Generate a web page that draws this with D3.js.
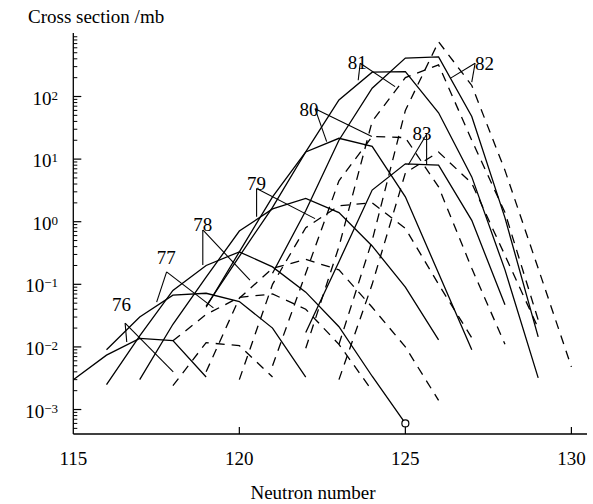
<!DOCTYPE html>
<html><head><meta charset="utf-8">
<script src="https://cdn.jsdelivr.net/npm/d3@7"></script>
<style>
html,body{margin:0;padding:0;background:#fff;}
text{font-family:"Liberation Serif","Times New Roman",serif;fill:#000;}
</style></head>
<body>
<svg id="chart" width="593" height="504"></svg>
<script>
// ---- data (neutron number, cross section in mb) ----
const solid76 = [[115,3.0e-3],[116,7.4e-3],[117,0.0137],[118,0.0126],[119,3.3e-3]];
const solid77 = [[116,9e-3],[117,0.030],[118,0.067],[119,0.072],[120,0.053],[121,0.020],[122,3.3e-3]];
const solid78 = [[116,2.5e-3],[117,0.015],[118,0.08],[119,0.2],[120,0.33],[121,0.19],[122,0.075],[123,0.021],[124,3.4e-3],[125,6e-4]];
const solid79 = [[117,3.0e-3],[118,0.023],[119,0.13],[120,0.71],[121,1.6],[122,2.35],[123,1.4],[124,0.41],[125,0.09],[126,0.013]];
const solid80 = [[119,0.045],[120,0.28],[121,1.7],[122,13],[123,21.5],[124,16],[125,2.5],[126,0.15],[127,9e-3]];
const solid81 = [[119,0.043],[120,0.33],[121,2.5],[122,13],[123,88],[124,245],[125,250],[126,55],[127,5.2],[128,0.17],[129,3.2e-3]];
const solid82 = [[121,0.15],[122,1.5],[123,20],[124,136],[125,410],[126,430],[127,48],[128,1.15],[129,0.0145]];
const solid83 = [[122,0.017],[123,0.23],[124,3.2],[125,8.4],[126,8.0],[127,1.05],[128,0.047]];

const dash76 = [[118,2.4e-3],[119,0.0117],[120,0.0105],[121,3.3e-3]];
const dash77 = [[118,0.0125],[119,0.033],[120,0.062],[121,0.07],[122,0.04],[123,0.011],[124,2e-3]];
const dash78 = [[119,4e-3],[120,0.06],[121,0.18],[122,0.25],[123,0.17],[124,0.043],[125,0.01],[126,1.4e-3]];
const dash79 = [[120,3e-3],[121,0.1],[122,0.8],[123,1.8],[124,2.0],[125,0.78],[126,0.1],[127,0.014]];
const dash80 = [[121,5e-3],[122,0.15],[123,4.5],[124,23],[125,22],[126,3.6],[127,0.18],[128,0.011]];
const dash81 = [[122,9.5e-3],[123,0.4],[124,40],[125,200],[126,320],[127,20],[128,1.4],[129,0.027]];
const dash82 = [[123,0.011],[124,0.5],[125,60],[126,750],[127,150],[128,6.6],[129,0.18],[130,4.8e-3]];
const dash83 = [[123,3e-3],[124,0.1],[125,6],[126,13],[127,4.1],[128,0.29],[129,0.02]];

const openCircle = [[125,6e-4]];

// labels (data coordinates)
const labelNames = ["76","77","78","79","80","81","82","83"];
const labelPos   = [[116.45,0.037],[117.8,0.21],[118.9,0.72],[120.52,3.2],[122.1,48],[123.55,280],[127.38,265],[125.5,20]];
const apexPos    = [[116.56,0.024],[117.81,0.158],[118.9,0.74],[120.52,3.4],[122.28,64],[123.64,340],[127.1,340],[125.64,25]];
const target1    = [[116.61,0.012],[117.51,0.052],[118.9,0.204],[120.52,1.2],[122.63,19],[123.58,182],[126.35,195],[125.09,8.1]];
const target2    = [[118.01,0.004],[119.22,0.042],[120.32,0.117],[122.28,1.12],[123.99,23],[124.69,144],[127.0,170],[125.64,8.1]];

const xTicks = [115,120,125,130];
const yMajor = [1e-3,1e-2,1e-1,1e0,1e1,1e2];
const yExp = ["\u22123","\u22122","\u22121","0","1","2"];

// ---- layout ----
const svg = d3.select("#chart");
const x = d3.scaleLinear().domain([115,130.47]).range([73.3,587]);
const y = d3.scaleLog().domain([Math.pow(10,-3.391),1000]).range([434,33.9]);

const line = d3.line().x(d=>x(d[0])).y(d=>y(d[1]));

const solids = [solid76,solid77,solid78,solid79,solid80,solid81,solid82,solid83];
const dashes = [dash76,dash77,dash78,dash79,dash80,dash81,dash82,dash83];

const plot = svg.append("g");
plot.selectAll("path.s").data(solids).join("path").attr("class","s")
  .attr("d",line).attr("fill","none").attr("stroke","#000").attr("stroke-width",1.3);
plot.selectAll("path.d").data(dashes).join("path").attr("class","d")
  .attr("d",line).attr("fill","none").attr("stroke","#000").attr("stroke-width",1.3)
  .attr("stroke-dasharray","9,7");

plot.selectAll("circle").data(openCircle).join("circle")
  .attr("cx",d=>x(d[0])).attr("cy",d=>y(d[1])).attr("r",3.5)
  .attr("fill","#fff").attr("stroke","#000").attr("stroke-width",1.2);

// axes
const x0 = x.range()[0], yb = y.range()[0];
svg.append("line").attr("x1",x0).attr("x2",x0).attr("y1",yb).attr("y2",33)
  .attr("stroke","#000").attr("stroke-width",1.3);
svg.append("line").attr("x1",x0).attr("x2",x.range()[1]).attr("y1",yb).attr("y2",yb)
  .attr("stroke","#000").attr("stroke-width",1.3);

const minor = [];
for (let e=-4;e<=2;e++) for (let m=2;m<=9;m++){ const v=m*Math.pow(10,e); if (v>=y.domain()[0] && v<=1000) minor.push(v); }
svg.selectAll("line.ymin").data(minor).join("line").attr("class","ymin")
  .attr("x1",x0).attr("x2",x0+4).attr("y1",d=>y(d)).attr("y2",d=>y(d))
  .attr("stroke","#000").attr("stroke-width",1);
svg.selectAll("line.ymaj").data(yMajor).join("line").attr("class","ymaj")
  .attr("x1",x0).attr("x2",x0+8).attr("y1",d=>y(d)).attr("y2",d=>y(d))
  .attr("stroke","#000").attr("stroke-width",1.2);
const yl = svg.selectAll("text.yl").data(yMajor).join("text").attr("class","yl")
  .attr("x",58).attr("y",d=>y(d)+8).attr("text-anchor","end").attr("font-size",19);
yl.append("tspan").text("10");
yl.append("tspan").attr("font-size",13).attr("dy",-5).text((d,i)=>yExp[i]);

svg.selectAll("line.xt").data(xTicks.slice(1)).join("line").attr("class","xt")
  .attr("x1",d=>x(d)).attr("x2",d=>x(d)).attr("y1",yb).attr("y2",yb-7)
  .attr("stroke","#000").attr("stroke-width",1.2);
svg.selectAll("text.xl").data(xTicks).join("text").attr("class","xl")
  .attr("x",d=>x(d)).attr("y",465).attr("text-anchor","middle").attr("font-size",19).text(d=>d);

svg.append("text").attr("x",28).attr("y",23).attr("font-size",19).text("Cross section /mb");
svg.append("text").attr("x",313).attr("y",499).attr("text-anchor","middle").attr("font-size",19).text("Neutron number");

const lab = svg.append("g");
labelNames.forEach((t,i)=>{
  lab.append("text").attr("x",x(labelPos[i][0])).attr("y",y(labelPos[i][1]))
    .attr("text-anchor","middle").attr("font-size",19).text(t);
  [target1[i],target2[i]].forEach(tg=>{
    lab.append("line").attr("x1",x(apexPos[i][0])).attr("y1",y(apexPos[i][1]))
      .attr("x2",x(tg[0])).attr("y2",y(tg[1])).attr("stroke","#000").attr("stroke-width",1.1);
  });
});
</script>
</body></html>
